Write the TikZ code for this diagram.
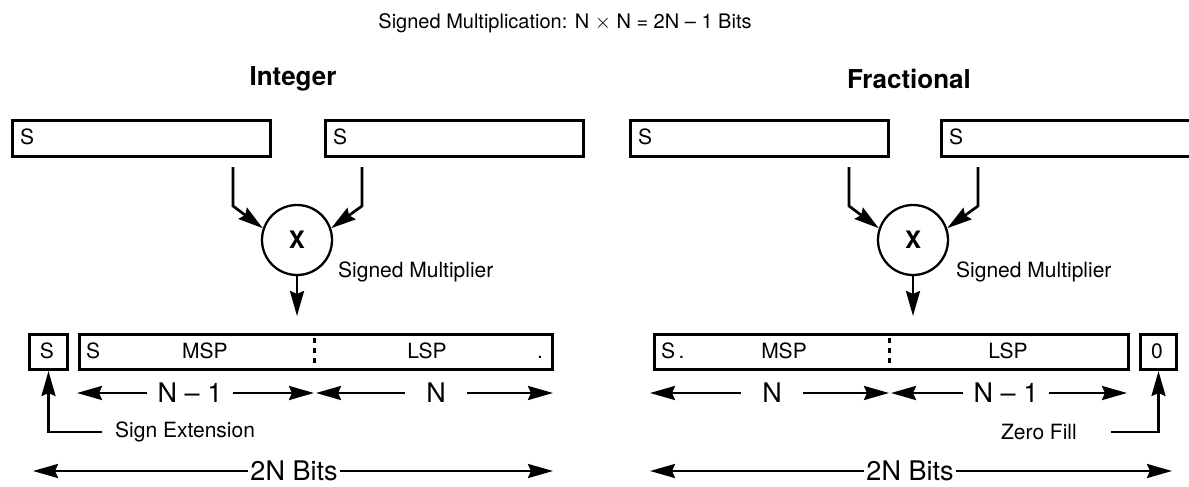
\documentclass[tikz,border=0pt]{standalone}
\usepackage{fontspec}
\setmainfont{TeX Gyre Heros}
\usetikzlibrary{arrows.meta}
\begin{document}
\begin{tikzpicture}[x=1pt,y=-1pt,
  regbox/.style={draw, line width=3pt, minimum height=36pt, inner sep=0pt, anchor=north west},
  resbox/.style={draw, line width=3pt, minimum height=35pt, inner sep=0pt, anchor=north west},
  lab/.style={font=\fontsize{21}{25}\selectfont, inner sep=0pt},
  ttl/.style={font=\fontsize{20}{24}\selectfont, inner sep=0pt},
  head/.style={font=\fontsize{26}{30}\selectfont\bfseries, inner sep=0pt},
  big/.style={font=\fontsize{27}{31}\selectfont, inner ysep=0pt},
  mult/.style={circle, draw, line width=2.3pt, minimum size=70pt, inner sep=0pt, font=\fontsize{24}{28}\selectfont\bfseries},
  arr/.style={line width=2.7pt, -{Stealth[length=25pt,width=14pt,inset=3pt]}},
  divider/.style={line width=3pt, dash pattern=on 5pt off 5pt}
]
\path[use as bounding box] (0,0) rectangle (1189,487);
\clip (0,0) rectangle (1189,487);

% title and headings
\node[ttl] (title) at (565,23) {Signed Multiplication: N $\times$ N = 2N -- 1 Bits};
\node[head] (hInt) at (293,79) {Integer};
\node[head] (hFrac) at (909,79) {Fractional};

% ---------------- Integer ----------------
\node[regbox, minimum width=258pt] (tA) at (11,119) {};
\node[regbox, minimum width=258pt] (tB) at (324,119) {};
\node[lab, anchor=base west] (tAs) at (20,144.5) {S};
\node[lab, anchor=base west] (tBs) at (333,144.5) {S};

\node[mult] (cL) at (297,240) {X};
\coordinate (iA) at (233,167);
\coordinate (iB) at (362,167);
\draw[arr] (iA) -- ++(0,39) -- (cL.161);
\draw[arr] (iB) -- ++(0,39) -- (cL.19);
\node[lab, anchor=base west] (smL) at (338,277) {Signed Multiplier};
\coordinate (oL) at (297,316);
\draw[arr] (cL.south) -- (oL);

\node[resbox, minimum width=38pt] (sL) at (28,333) {};
\node[resbox, minimum width=473pt] (bigL) at (78,333) {};
\node[lab, anchor=base] (sLs) at (47,358) {S};
\node[lab, anchor=base west] (bLs) at (86,358) {S};
\node[lab, anchor=base] (bLm) at (205,358) {MSP};
\node[lab, anchor=base] (bLl) at (427,358) {LSP};
\node[lab, anchor=base] (bLd) at (540,358) {.};
\draw[divider] (314,338) -- (314,363);

\node[big, inner xsep=11pt] (nL1) at (190,393) {N -- 1};
\node[big, inner xsep=21pt] (nL2) at (436,393) {N};
\coordinate (dL0) at (77,393);
\coordinate (dL1) at (314,393);
\coordinate (dL2) at (316,393);
\coordinate (dL3) at (553,393);
\draw[arr] (nL1.west) -- (dL0);
\draw[arr] (nL1.east) -- (dL1);
\draw[arr] (nL2.west) -- (dL2);
\draw[arr] (nL2.east) -- (dL3);

\node[lab, anchor=west] (seL) at (115,432) {Sign Extension};
\draw[arr] ([xshift=-13pt]seL.west) -| (sL.south);

\node[big, inner xsep=2pt] (bbL) at (294,471) {2N Bits};
\coordinate (eL0) at (33,471);
\coordinate (eL1) at (553,471);
\draw[arr] (bbL.west) -- (eL0);
\draw[arr] (bbL.east) -- (eL1);

% ---------------- Fractional ----------------
\node[regbox, minimum width=258pt] (tC) at (629,119) {};
\node[regbox, minimum width=258pt] (tD) at (940,119) {};
\node[lab, anchor=base west] (tCs) at (638,144.5) {S};
\node[lab, anchor=base west] (tDs) at (949,144.5) {S};

\node[mult] (cR) at (913,240) {X};
\coordinate (iC) at (849,167);
\coordinate (iD) at (978,167);
\draw[arr] (iC) -- ++(0,39) -- (cR.161);
\draw[arr] (iD) -- ++(0,39) -- (cR.19);
\node[lab, anchor=base west] (smR) at (956,277) {Signed Multiplier};
\coordinate (oR) at (913,316);
\draw[arr] (cR.south) -- (oR);

\node[resbox, minimum width=474pt] (bigR) at (653,333) {};
\node[resbox, minimum width=36pt] (zR) at (1139,333) {};
\node[lab, anchor=base west] (bRs) at (661,358) {S\,.};
\node[lab, anchor=base] (bRm) at (784,358) {MSP};
\node[lab, anchor=base] (bRl) at (1008,358) {LSP};
\node[lab, anchor=base] (zR0) at (1157,358) {0};
\draw[divider] (889,338) -- (889,363);

\node[big, inner xsep=21pt] (nR1) at (772,393) {N};
\node[big, inner xsep=11pt] (nR2) at (1006,393) {N -- 1};
\coordinate (dR0) at (650,393);
\coordinate (dR1) at (889,393);
\coordinate (dR2) at (891,393);
\coordinate (dR3) at (1127,393);
\draw[arr] (nR1.west) -- (dR0);
\draw[arr] (nR1.east) -- (dR1);
\draw[arr] (nR2.west) -- (dR2);
\draw[arr] (nR2.east) -- (dR3);

\node[lab, anchor=east] (zfR) at (1077,432) {Zero Fill};
\draw[arr] ([xshift=34pt]zfR.east) -| (zR.south);

\node[big, inner xsep=2pt] (bbR) at (910,471) {2N Bits};
\coordinate (eR0) at (650,471);
\coordinate (eR1) at (1172,471);
\draw[arr] (bbR.west) -- (eR0);
\draw[arr] (bbR.east) -- (eR1);
\end{tikzpicture}
\end{document}
